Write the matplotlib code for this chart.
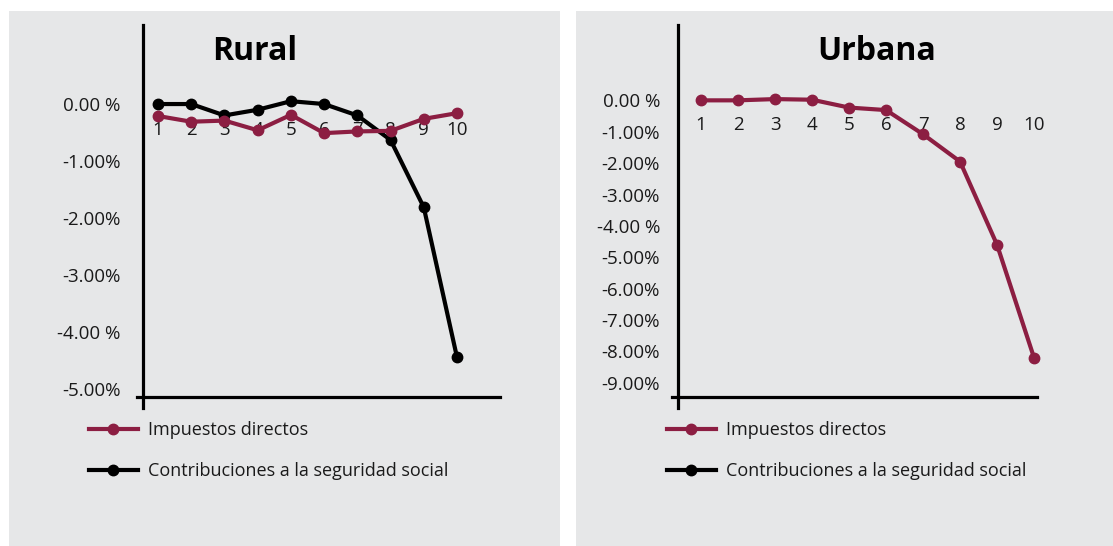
import matplotlib.pyplot as plt
from matplotlib.patches import Rectangle
from matplotlib.lines import Line2D

plt.rcParams["font.family"] = ["Open Sans", "DejaVu Sans"]

W, H = 1113, 546

deciles = [1, 2, 3, 4, 5, 6, 7, 8, 9, 10]
decile_labels = ["1", "2", "3", "4", "5", "6", "7", "8", "9", "10"]

# Rural
rural_impuestos = [-0.21, -0.31, -0.29, -0.46, -0.19, -0.51, -0.48, -0.47, -0.26, -0.16]
rural_contrib = [0.0, 0.0, -0.20, -0.10, 0.05, 0.0, -0.20, -0.63, -1.81, -4.44]
rural_ticks = [0, -1, -2, -3, -4, -5]
rural_ticklabels = ["0.00 %", "-1.00%", "-2.00%", "-3.00%", "-4.00 %", "-5.00%"]

# Urbana
urbana_impuestos = [0.0, 0.0, 0.04, 0.02, -0.23, -0.31, -1.08, -1.95, -4.6, -8.2]
urbana_ticks = [0, -1, -2, -3, -4, -5, -6, -7, -8, -9]
urbana_ticklabels = ["0.00 %", "-1.00%", "-2.00%", "-3.00%", "-4.00 %",
                     "-5.00%", "-6.00%", "-7.00%", "-8.00%", "-9.00%"]

RED = "#8C1E42"
BLACK = "#000000"
PANEL = "#E6E7E8"
TXT = "#1a1a1a"
LW = 3.0
MS = 7.5


def box(l, t, r, b):
    return [l / W, 1 - b / H, (r - l) / W, (b - t) / H]


fig = plt.figure(figsize=(W / 100, H / 100), dpi=100)
fig.patch.set_facecolor("white")

# gray panels behind each chart
for l, r in [(9, 560), (576, 1113)]:
    fig.patches.append(Rectangle((l / W, 0), (r - l) / W, 1 - 10.5 / H,
                                 transform=fig.transFigure, facecolor=PANEL,
                                 edgecolor="none", zorder=-5))


def setup(ax, ylim, xlim, ticks, ticklabels, base_y, label_y, title, title_x, pad):
    ax.set_facecolor("none")
    ax.set_xlim(*xlim)
    ax.set_ylim(*ylim)
    for s in ["top", "right", "bottom"]:
        ax.spines[s].set_visible(False)
    ax.spines["left"].set_linewidth(2.3)
    ax.set_xticks([])
    ax.set_yticks(ticks)
    ax.set_yticklabels(ticklabels)
    ax.tick_params(axis="y", length=0, pad=pad, labelsize=13.5, labelcolor=TXT)
    # horizontal base line, a bit past the vertical axis
    ax.plot([-0.017, 1], [base_y, base_y], color="black", lw=2.3,
            transform=ax.get_yaxis_transform(), clip_on=False, zorder=5)
    for x, lab in zip(deciles, decile_labels):
        ax.text(x, label_y, lab, ha="center", va="center", fontsize=13.5,
                color=TXT, zorder=1)
    fig.text(title_x / W, 1 - 52 / H, title, ha="center", va="center",
             fontsize=23, fontweight="bold", color="black")


def add_legend(x_px):
    handles = [
        Line2D([], [], color=RED, lw=LW, marker="o", markersize=MS),
        Line2D([], [], color=BLACK, lw=LW, marker="o", markersize=MS),
    ]
    labels = ["Impuestos directos", "Contribuciones a la seguridad social"]
    fig.legend(handles, labels, loc="upper left",
               bbox_to_anchor=(x_px / W, 1 - 421 / H), frameon=False,
               fontsize=13, handlelength=2.7, handletextpad=0.55,
               labelspacing=1.3, borderpad=0, borderaxespad=0, numpoints=1,
               labelcolor=TXT)


# left chart: Rural
ax1 = fig.add_axes(box(143, 25, 500, 408))
setup(ax1, (-5.33, 1.386), (0.548, 11.295), rural_ticks, rural_ticklabels,
      -5.14, -0.46, "Rural", 255, 16)
ax1.plot(deciles, rural_impuestos, color=RED, lw=LW, marker="o",
         markersize=MS, zorder=3, clip_on=False)
ax1.plot(deciles, rural_contrib, color=BLACK, lw=LW, marker="o",
         markersize=MS, zorder=2, clip_on=False)
add_legend(89)

# right chart: Urbana
ax2 = fig.add_axes(box(678, 25, 1037, 408))
setup(ax2, (-9.8, 2.4), (0.378, 10.08), urbana_ticks, urbana_ticklabels,
      -9.45, -0.79, "Urbana", 877, 13)
ax2.plot(deciles, urbana_impuestos, color=RED, lw=LW, marker="o",
         markersize=MS, zorder=3, clip_on=False)
add_legend(667)

fig.savefig("out.png", dpi=100)
